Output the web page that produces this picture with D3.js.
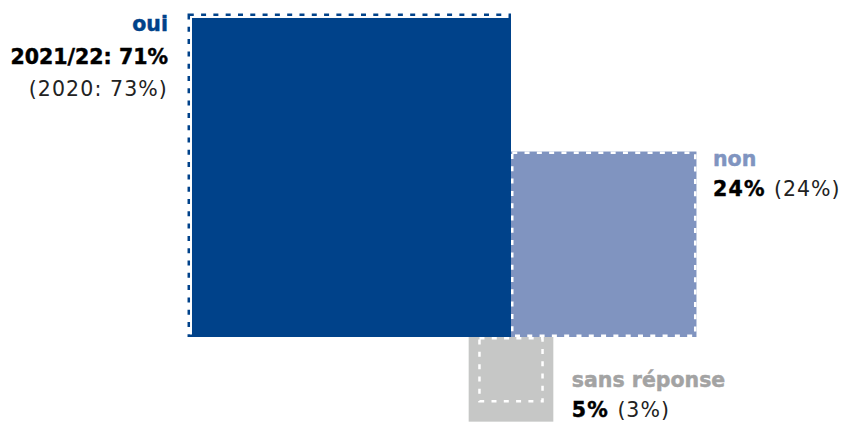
<!DOCTYPE html>
<html>
<head>
<meta charset="utf-8">
<script src="https://cdn.jsdelivr.net/npm/d3@7"></script>
<style>
  html, body { margin: 0; padding: 0; background: #fff; }
  svg { display: block; }
  text { font-family: "DejaVu Sans", sans-serif; font-size: 20.5px; }
  .heavy { font-weight: bold; stroke-width: 0.45px; }
</style>
</head>
<body>
<svg id="chart" width="846" height="424"></svg>
<script>
// Answer shares (percent) for the current survey and the previous one
const categories = ["oui", "non", "sans réponse"];
const valuesCurrent = [71, 24, 5];
const valuesPrevious = [73, 24, 3];
const periodCurrent = "2021/22";
const periodPrevious = "2020";

const fillColors = ["#00428a", "#8094c0", "#c6c7c6"];
const labelColors = ["#00428a", "#8094c0", "#a3a3a3"];
const outlineColors = ["#00428a", "#ffffff", "#ffffff"];

const svg = d3.select("#chart");

// Square side proportional to sqrt of the share, so area encodes the value
const side = d3.scaleSqrt().domain([0, 100]).range([0, 378.6]);

// Point where the three squares meet
const ox = 511, oy = 337;

// Square placement: "oui" grows up-left, "non" up-right, "sans réponse" hangs below
function box(i, v) {
  const s = side(v);
  if (i === 0) return { x: ox - s, y: oy - s, s };
  if (i === 1) return { x: ox, y: oy - s, s };
  return { x: ox - s / 2, y: oy, s };
}

const sw = 2.5;
const dash = "5 7.3";

const data = categories.map((c, i) => ({
  cat: c, i,
  cur: box(i, valuesCurrent[i]),
  prev: box(i, valuesPrevious[i])
}));

// The previous-year outline of "oui" sits behind its fill; the others on top
const back = svg.append("g");
const fills = svg.append("g");
const front = svg.append("g");

data.forEach(d => {
  fills.append("rect")
    .attr("x", d.cur.x).attr("y", d.cur.y)
    .attr("width", d.cur.s).attr("height", d.cur.s)
    .attr("fill", fillColors[d.i]);

  (d.i === 0 ? back : front).append("rect")
    .attr("x", d.prev.x + sw / 2).attr("y", d.prev.y + sw / 2)
    .attr("width", d.prev.s - sw).attr("height", d.prev.s - sw)
    .attr("fill", "none")
    .attr("stroke", outlineColors[d.i])
    .attr("stroke-width", sw)
    .attr("stroke-dasharray", dash);
});

// Labels
const labels = svg.append("g");
const pct = v => v + "%";

// oui: right-aligned to the left of its square
{
  const d = data[0];
  const x = d.cur.x - 24;
  const g = labels.append("g").attr("text-anchor", "end");
  g.append("text").attr("class", "heavy").attr("x", x).attr("y", 31)
    .attr("fill", labelColors[0]).attr("stroke", labelColors[0])
    .text(categories[0]);
  g.append("text").attr("class", "heavy").attr("x", x).attr("y", 64)
    .attr("fill", "#000").attr("stroke", "#000")
    .text(periodCurrent + ": " + pct(valuesCurrent[0]));
  g.append("text").attr("x", x).attr("y", 96)
    .attr("fill", "#222").attr("letter-spacing", 1.1)
    .text("(" + periodPrevious + ": " + pct(valuesPrevious[0]) + ")");
}

// non and sans réponse: left-aligned to the right of their squares
function sideLabel(i, x, y0) {
  const g = labels.append("g");
  g.append("text").attr("class", "heavy").attr("x", x).attr("y", y0)
    .attr("fill", labelColors[i]).attr("stroke", labelColors[i])
    .text(categories[i]);
  const t = g.append("text").attr("x", x).attr("y", y0 + 30.5);
  t.append("tspan").attr("class", "heavy")
    .attr("fill", "#000").attr("stroke", "#000").attr("letter-spacing", 1.2)
    .text(pct(valuesCurrent[i]) + " ");
  t.append("tspan").attr("fill", "#222").attr("letter-spacing", 1.0)
    .text("(" + pct(valuesPrevious[i]) + ")");
}
sideLabel(1, data[1].cur.x + data[1].cur.s + 16.5, 165.5);
sideLabel(2, data[2].cur.x + data[2].cur.s + 18.5, 386.5);
</script>
</body>
</html>
